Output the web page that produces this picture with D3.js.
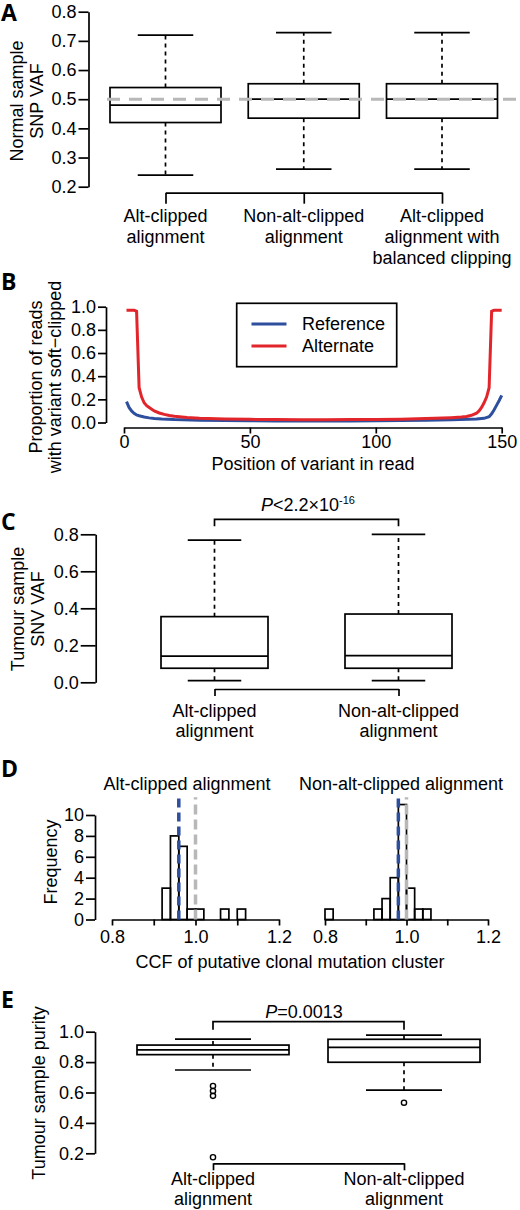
<!DOCTYPE html>
<html>
<head>
<meta charset="utf-8">
<script src="https://cdn.jsdelivr.net/npm/d3@7"></script>
<style>
body { margin: 0; background: #fff; }
svg text { font-family: "Liberation Sans", Arial, Helvetica, sans-serif; fill: #000; }
</style>
</head>
<body>
<div id="chart"></div>
<script>
// Painel A - VAF dos SNPs na amostra normal
const catA = ["Alt-clipped alignment", "Non-alt-clipped alignment", "Alt-clipped alignment with balanced clipping"];
const linesA = [["Alt-clipped", "alignment"], ["Non-alt-clipped", "alignment"], ["Alt-clipped", "alignment with", "balanced clipping"]];
// [min, q1, mediana, q3, max]
const statsA = [[0.24, 0.42, 0.48, 0.54, 0.72], [0.26, 0.435, 0.50, 0.553, 0.728], [0.26, 0.435, 0.50, 0.553, 0.728]];
const ticksA = [0.2, 0.3, 0.4, 0.5, 0.6, 0.7, 0.8];
const expectedA = 0.5;

// Painel B - proporção de reads soft-clipped por posição
const posRef = [1, 2, 3, 4, 5, 6, 8, 10, 12, 15, 20, 30, 40, 50, 60, 70, 80, 90, 100, 110, 120, 130, 140, 143, 145, 146, 147, 148, 149, 150];
const propRef = [0.18, 0.13, 0.10, 0.08, 0.065, 0.058, 0.047, 0.04, 0.035, 0.03, 0.025, 0.02, 0.017, 0.015, 0.014, 0.013, 0.013, 0.014, 0.015, 0.017, 0.02, 0.024, 0.03, 0.036, 0.05, 0.075, 0.11, 0.15, 0.19, 0.235];
const posAlt = [1, 2, 3, 4, 5, 6, 7, 8, 9, 10, 12, 14, 16, 18, 20, 25, 30, 40, 50, 60, 70, 80, 90, 100, 110, 120, 130, 134, 136, 138, 140, 141, 142, 143, 144, 145, 146, 147, 148, 149, 150];
const propAlt = [0.97, 0.97, 0.97, 0.97, 0.96, 0.30, 0.22, 0.17, 0.145, 0.13, 0.10, 0.082, 0.07, 0.061, 0.054, 0.043, 0.036, 0.03, 0.027, 0.025, 0.024, 0.024, 0.025, 0.026, 0.029, 0.034, 0.042, 0.047, 0.052, 0.062, 0.08, 0.10, 0.13, 0.17, 0.22, 0.30, 0.96, 0.97, 0.97, 0.97, 0.97];
const legendB = ["Reference", "Alternate"];
const ticksBy = [0, 0.2, 0.4, 0.6, 0.8, 1.0];
const ticksBx = [0, 50, 100, 150];

// Painel C - VAF dos SNVs no tumor
const catC = ["Alt-clipped alignment", "Non-alt-clipped alignment"];
const linesC = [["Alt-clipped", "alignment"], ["Non-alt-clipped", "alignment"]];
const statsC = [[0.009, 0.076, 0.142, 0.355, 0.769], [0.009, 0.076, 0.144, 0.369, 0.80]];
const ticksC = [0, 0.2, 0.4, 0.6, 0.8];

// Painel D - histogramas de CCF
const titlesD = ["Alt-clipped alignment", "Non-alt-clipped alignment"];
const binWidth = 0.02;
const binStartL = [0.92, 0.94, 0.96, 0.98, 1.00, 1.06, 1.10];
const countsL = [3, 8, 7, 1, 1, 1, 1];
const binStartR = [0.80, 0.92, 0.94, 0.96, 0.98, 1.00, 1.02, 1.04];
const countsR = [1, 1, 2, 4, 11, 3, 1, 1];
const medianCcf = [0.96, 0.98];
const clonalCcf = 1.0;
const ticksDx = [0.8, 0.9, 1.0, 1.1, 1.2];
const labelsDx = [0.8, 1.0, 1.2];
const ticksDy = [0, 2, 4, 6, 8, 10];

// Painel E - pureza do tumor
const catE = ["Alt-clipped alignment", "Non-alt-clipped alignment"];
const linesE = [["Alt-clipped", "alignment"], ["Non-alt-clipped", "alignment"]];
const statsE = [[0.748, 0.849, 0.88, 0.912, 0.951], [0.616, 0.799, 0.897, 0.95, 0.978]];
const outliersE = [[0.643, 0.61, 0.578, 0.174], [0.533]];
const ticksE = [0.2, 0.4, 0.6, 0.8, 1.0];

// Cores
const blue = '#2d4f9e';
const red = '#e2242b';
const grey = '#b8b8b8';
const LW = 1.7;

// Canvas
const W = 520, H = 1210;
const svg = d3.select('#chart').append('svg')
    .attr('width', W)
    .attr('height', H);

// ---------- funções auxiliares ----------

let styleAxis = (g) => {
    g.attr('font-size', 18).attr('font-family', null);
    g.selectAll('path, line').attr('stroke', '#000').attr('stroke-width', LW);
    g.selectAll('text').attr('fill', '#000');
};

let yAxis = (x, scale, ticks, size, pad, fmt) => {
    svg.append('g')
        .attr('transform', `translate(${x},0)`)
        .call(d3.axisLeft(scale).tickValues(ticks).tickSize(size).tickSizeOuter(0).tickPadding(pad).tickFormat(fmt))
        .call(styleAxis);
};

let panelLetter = (letter, y) => {
    svg.append('text').attr('x', 1).attr('y', y)
        .attr('font-size', 23).attr('font-weight', 'bold')
        .style('font-family', '"Open Sans", "Liberation Sans", Arial, sans-serif')
        .text(letter);
};

let yLabel = (lines, cxs, cy) => {
    lines.forEach((t, i) => {
        svg.append('text')
            .attr('transform', `translate(${cxs[i]},${cy}) rotate(-90)`)
            .attr('text-anchor', 'middle')
            .attr('dy', '0.35em')
            .attr('font-size', 18)
            .text(t);
    });
};

// eixo "colchete" sob os boxplots, com rótulos de várias linhas
let bracketAxis = (scale, y, size, lines, base, lh) => {
    svg.append('g')
        .attr('transform', `translate(0,${y})`)
        .call(d3.axisBottom(scale).tickSize(size).tickSizeOuter(0).tickFormat(''))
        .call(styleAxis);
    scale.domain().forEach((c, i) => {
        let t = svg.append('text')
            .attr('text-anchor', 'middle')
            .attr('font-size', 18);
        lines[i].forEach((l, j) => {
            t.append('tspan').attr('x', scale(c)).attr('y', base + j * lh).text(l);
        });
    });
};

// colchete de significância (P)
let pBracket = (x1, x2, y, drop) => {
    svg.append('path')
        .attr('d', `M${x1},${y + drop}V${y}H${x2}V${y + drop}`)
        .attr('fill', 'none').attr('stroke', '#000').attr('stroke-width', LW);
};

let boxplot = (cx, half, s, yScale) => {
    let g = svg.append('g');
    let [mn, q1, md, q3, mx] = s;
    // bigodes tracejados
    g.append('line').attr('x1', cx).attr('x2', cx).attr('y1', yScale(q3)).attr('y2', yScale(mx))
        .attr('stroke', '#000').attr('stroke-width', LW).attr('stroke-dasharray', '4,4');
    g.append('line').attr('x1', cx).attr('x2', cx).attr('y1', yScale(q1)).attr('y2', yScale(mn))
        .attr('stroke', '#000').attr('stroke-width', LW).attr('stroke-dasharray', '4,4');
    // caps
    [mn, mx].forEach(v => {
        g.append('line').attr('x1', cx - half / 2).attr('x2', cx + half / 2)
            .attr('y1', yScale(v)).attr('y2', yScale(v))
            .attr('stroke', '#000').attr('stroke-width', LW);
    });
    // caixa
    g.append('rect')
        .attr('x', cx - half).attr('width', 2 * half)
        .attr('y', yScale(q3)).attr('height', yScale(q1) - yScale(q3))
        .attr('fill', '#fff').attr('stroke', '#000').attr('stroke-width', LW);
    g.append('line').attr('x1', cx - half).attr('x2', cx + half)
        .attr('y1', yScale(md)).attr('y2', yScale(md))
        .attr('stroke', '#000').attr('stroke-width', LW);
};

// ---------- Painel A ----------

panelLetter('A', 21);
let yA = d3.scaleLinear().domain([0.2, 0.8]).range([186.7, 11.7]);
let xA = d3.scalePoint().domain(catA).range([165.5, 442]);
yAxis(88.5, yA, ticksA, 10, 2, d3.format('.1f'));
yLabel(['Normal sample', 'SNP VAF'], [17, 37], 101);
catA.forEach((c, i) => boxplot(xA(c), 55.5, statsA[i], yA));
svg.append('line')
    .attr('x1', 107).attr('x2', W)
    .attr('y1', yA(expectedA)).attr('y2', yA(expectedA))
    .attr('stroke', grey).attr('stroke-width', 3).attr('stroke-dasharray', '13,9');
bracketAxis(xA, 192.7, 11, linesA, 221.5, 21);

// ---------- Painel B ----------

panelLetter('B', 290);
let xB = d3.scaleLinear().domain([0, 150]).range([124, 501.7]);
let yB = d3.scaleLinear().domain([0, 1]).range([422.5, 306.7]);
yAxis(106, yB, ticksBy, 8, 2, d3.format('.1f'));
svg.append('g')
    .attr('transform', 'translate(0,427.5)')
    .call(d3.axisBottom(xB).tickValues(ticksBx).tickSize(6).tickSizeOuter(0).tickPadding(2))
    .call(styleAxis);
svg.append('text').attr('x', 313).attr('y', 470).attr('text-anchor', 'middle')
    .attr('font-size', 18).text('Position of variant in read');
yLabel(['Proportion of reads', 'with variant soft\u2212clipped'], [36, 55], 377);

let lineB = d3.line().x(d => xB(d[0])).y(d => yB(d[1]));
svg.append('path').datum(d3.zip(posRef, propRef))
    .attr('d', lineB).attr('fill', 'none').attr('stroke', blue).attr('stroke-width', 3);
svg.append('path').datum(d3.zip(posAlt, propAlt))
    .attr('d', lineB).attr('fill', 'none').attr('stroke', red).attr('stroke-width', 3);

// legenda
let leg = svg.append('g');
leg.append('rect').attr('x', 236.7).attr('y', 303.3).attr('width', 160).attr('height', 63.4)
    .attr('fill', '#fff').attr('stroke', '#000').attr('stroke-width', LW);
[blue, red].forEach((col, i) => {
    leg.append('line').attr('x1', 251.5).attr('x2', 286.5)
        .attr('y1', 324 + i * 22).attr('y2', 324 + i * 22)
        .attr('stroke', col).attr('stroke-width', 3);
    leg.append('text').attr('x', 302).attr('y', 324 + i * 22).attr('dy', '0.35em')
        .attr('font-size', 18).text(legendB[i]);
});

// ---------- Painel C ----------

panelLetter('C', 530);
let yC = d3.scaleLinear().domain([0, 0.8]).range([682.3, 534.3]);
let xC = d3.scalePoint().domain(catC).range([214.5, 398.5]);
yAxis(95.7, yC, ticksC, 15, 2, d3.format('.1f'));
yLabel(['Tumour sample', 'SNV VAF'], [18, 38], 609);
catC.forEach((c, i) => boxplot(xC(c), 53.5, statsC[i], yC));
bracketAxis(xC, 689, 7, linesC, 716.7, 20.5);
pBracket(xC(catC[0]), xC(catC[1]), 519.3, 7);
let pC = svg.append('text').attr('x', 308).attr('y', 510.5).attr('text-anchor', 'middle').attr('font-size', 18);
pC.append('tspan').attr('font-style', 'italic').text('P');
pC.append('tspan').text('<2.2\u00d710');
pC.append('tspan').attr('font-size', 11).attr('dy', -7).text('-16');

// ---------- Painel D ----------

panelLetter('D', 777);
let yD = d3.scaleLinear().domain([0, 10]).range([919.5, 815]);
let xDs = [d3.scaleLinear().domain([0.8, 1.2]).range([112, 279]),
           d3.scaleLinear().domain([0.8, 1.2]).range([325, 488])];
yAxis(95, yD, ticksDy, 9, 2, d3.format('d'));
yLabel(['Frequency'], [51], 862);
let histos = [[binStartL, countsL], [binStartR, countsR]];

xDs.forEach((xD, k) => {
    let [starts, counts] = histos[k];
    svg.append('g').selectAll('rect')
        .data(d3.zip(starts, counts))
        .enter()
        .append('rect')
        .attr('x', d => xD(d[0]))
        .attr('width', d => xD(d[0] + binWidth) - xD(d[0]))
        .attr('y', d => yD(d[1]))
        .attr('height', d => yD(0) - yD(d[1]))
        .attr('fill', 'none').attr('stroke', '#000').attr('stroke-width', LW);

    svg.append('g')
        .attr('transform', `translate(0,${yD(0)})`)
        .call(d3.axisBottom(xD).tickValues(ticksDx).tickSize(6).tickSizeOuter(0).tickPadding(5)
            .tickFormat(v => labelsDx.includes(v) ? d3.format('.1f')(v) : ''))
        .call(styleAxis);

    // linhas de mediana (azul) e CCF clonal (cinza)
    svg.append('line').attr('x1', xD(clonalCcf)).attr('x2', xD(clonalCcf))
        .attr('y1', yD(0)).attr('y2', yD(11.7))
        .attr('stroke', grey).attr('stroke-width', 3.5).attr('stroke-dasharray', '10,5');
    svg.append('line').attr('x1', xD(medianCcf[k])).attr('x2', xD(medianCcf[k]))
        .attr('y1', yD(0)).attr('y2', yD(11.7))
        .attr('stroke', blue).attr('stroke-width', 3.5).attr('stroke-dasharray', '9,5');

    svg.append('text').attr('x', k === 0 ? 187 : 401).attr('y', 790)
        .attr('text-anchor', 'middle').attr('font-size', 18).text(titlesD[k]);
});
svg.append('text').attr('x', 290).attr('y', 968.3).attr('text-anchor', 'middle')
    .attr('font-size', 18).text('CCF of putative clonal mutation cluster');

// ---------- Painel E ----------

panelLetter('E', 1008);
let yE = d3.scaleLinear().domain([0.2, 1.0]).range([1153.3, 1031.7]);
let xE = d3.scalePoint().domain(catE).range([213, 404]);
yAxis(95, yE, ticksE, 9, 2, d3.format('.1f'));
yLabel(['Tumour sample purity'], [39], 1093);
catE.forEach((c, i) => {
    boxplot(xE(c), 76, statsE[i], yE);
    svg.append('g').selectAll('circle')
        .data(outliersE[i])
        .enter()
        .append('circle')
        .attr('cx', xE(c))
        .attr('cy', d => yE(d))
        .attr('r', 2.6)
        .attr('fill', 'none').attr('stroke', '#000').attr('stroke-width', 1.4);
});
bracketAxis(xE, 1163.3, 7, linesE, 1185, 20);
pBracket(xE(catE[0]), xE(catE[1]), 1021.7, 8);
let pE = svg.append('text').attr('x', 304).attr('y', 1018).attr('text-anchor', 'middle').attr('font-size', 18);
pE.append('tspan').attr('font-style', 'italic').text('P');
pE.append('tspan').text('=0.0013');
</script>
</body>
</html>
